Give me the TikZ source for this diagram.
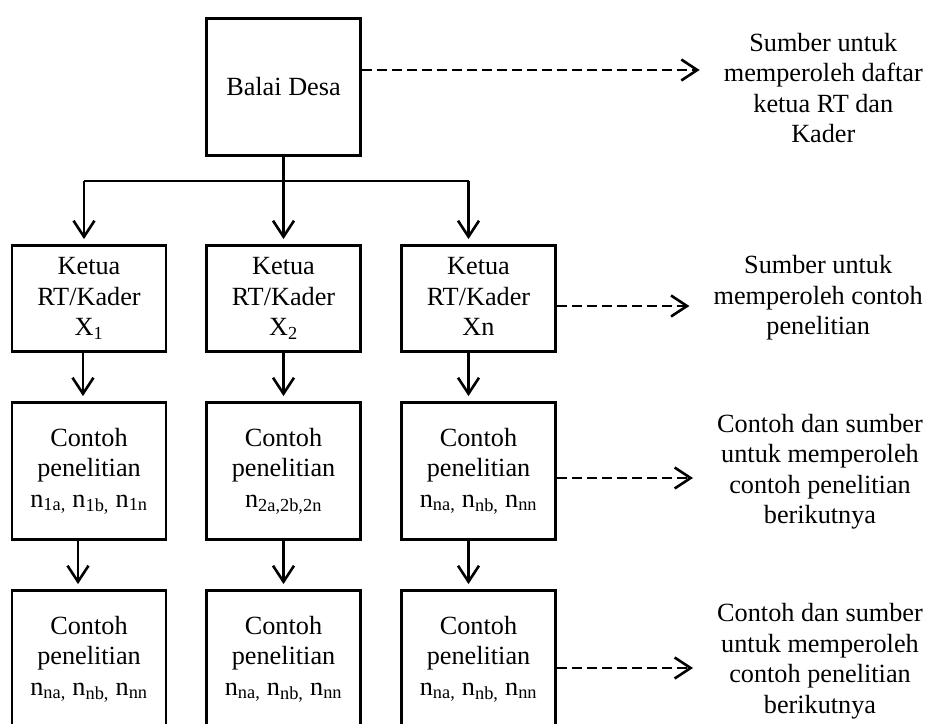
\documentclass[tikz,border=0pt]{standalone}
\usepackage{fontspec}
\setmainfont{Liberation Serif}
\usetikzlibrary{arrows.meta, positioning, calc}

\begin{document}
\begin{tikzpicture}[x=1pt, y=1pt,
    box/.style={rectangle, draw=black, line width=2.9pt, minimum width=154pt, minimum height=#1, align=center, inner sep=0pt, font=\fontsize{26.25}{30.5}\selectfont},
    info/.style={anchor=east, align=center, inner sep=0pt, font=\fontsize{26.25}{30.5}\selectfont},
    arrow/.style={-{Straight Barb[length=16pt, width=21pt, line width=2.6pt]}, line width=2.5pt, shorten >=5pt},
    dasharrow/.style={arrow, dash pattern=on 10pt off 5pt, shorten >=24pt},
    bus/.style={line width=1.6pt}
]
\useasboundingbox (0,0) rectangle (926,-723);

\node[box=137pt] (balai) at (283.5,-87) {Balai Desa};

\node[box=106pt] (ketua1) at (89,-298.5) {Ketua\\RT/Kader\\X\textsubscript{1}};
\node[box=106pt] (ketua2) at (283.5,-298.5) {Ketua\\RT/Kader\\X\textsubscript{2}};
\node[box=106pt] (ketua3) at (478.5,-298.5) {Ketua\\RT/Kader\\Xn\vphantom{X\textsubscript{1}}};

\node[box=137pt] (contoh1) at (89,-471) {Contoh\\penelitian\\n\textsubscript{1a,} n\textsubscript{1b,} n\textsubscript{1n}};
\node[box=137pt] (contoh2) at (283.5,-471) {Contoh\\penelitian\\n\textsubscript{2a,2b,2n}};
\node[box=137pt] (contoh3) at (478.5,-471) {Contoh\\penelitian\\n\textsubscript{na,} n\textsubscript{nb,} n\textsubscript{nn}};

\node[box=137pt] (lanjut1) at (89,-659) {Contoh\\penelitian\\n\textsubscript{na,} n\textsubscript{nb,} n\textsubscript{nn}};
\node[box=137pt] (lanjut2) at (283.5,-659) {Contoh\\penelitian\\n\textsubscript{na,} n\textsubscript{nb,} n\textsubscript{nn}};
\node[box=137pt] (lanjut3) at (478.5,-659) {Contoh\\penelitian\\n\textsubscript{na,} n\textsubscript{nb,} n\textsubscript{nn}};

% keterangan
\node[info] (sumber1) at (923,-88) {Sumber untuk\\memperoleh daftar\\ketua RT dan\\Kader};
\node[info] (sumber2) at (923,-298) {Sumber untuk\\memperoleh contoh\\penelitian};
\node[info] (sumber3) at (923,-471.5) {Contoh dan sumber\\untuk memperoleh\\contoh penelitian\\berikutnya};
\node[info] (sumber4) at (923,-661) {Contoh dan sumber\\untuk memperoleh\\contoh penelitian\\berikutnya};

\coordinate (bus) at ($(balai.south)+(0,-24)$);
\draw[arrow] (balai.south) -- (ketua2.north);
\draw[bus] ([xshift=-5pt]ketua1.north |- bus) -- ([xshift=-10pt]ketua3.north |- bus);
\draw[arrow] ([xshift=-5pt]ketua1.north |- bus) -- ([xshift=-5pt]ketua1.north);
\draw[arrow] ([xshift=-10pt]ketua3.north |- bus) -- ([xshift=-10pt]ketua3.north);

\draw[arrow] ([xshift=-6pt]ketua1.south) -- ([xshift=-6pt]contoh1.north);
\draw[arrow] (ketua2.south) -- (contoh2.north);
\draw[arrow] ([xshift=-10pt]ketua3.south) -- ([xshift=-10pt]contoh3.north);

\draw[arrow] ([xshift=-11pt]contoh1.south) -- ([xshift=-11pt]lanjut1.north);
\draw[arrow] (contoh2.south) -- (lanjut2.north);
\draw[arrow] ([xshift=-10pt]contoh3.south) -- ([xshift=-10pt]lanjut3.north);

\draw[dasharrow] ([yshift=17pt]balai.east) -- ([yshift=17pt]balai.east -| sumber1.west);
\draw[dasharrow] ([yshift=-7.5pt]ketua3.east) -- ([yshift=-7.5pt]ketua3.east -| sumber2.west);
\draw[dasharrow] ([yshift=-7pt]contoh3.east) -- ([yshift=-7pt]contoh3.east -| sumber3.west);
\draw[dasharrow] ([yshift=-9pt]lanjut3.east) -- ([yshift=-9pt]lanjut3.east -| sumber4.west);

\end{tikzpicture}
\end{document}
